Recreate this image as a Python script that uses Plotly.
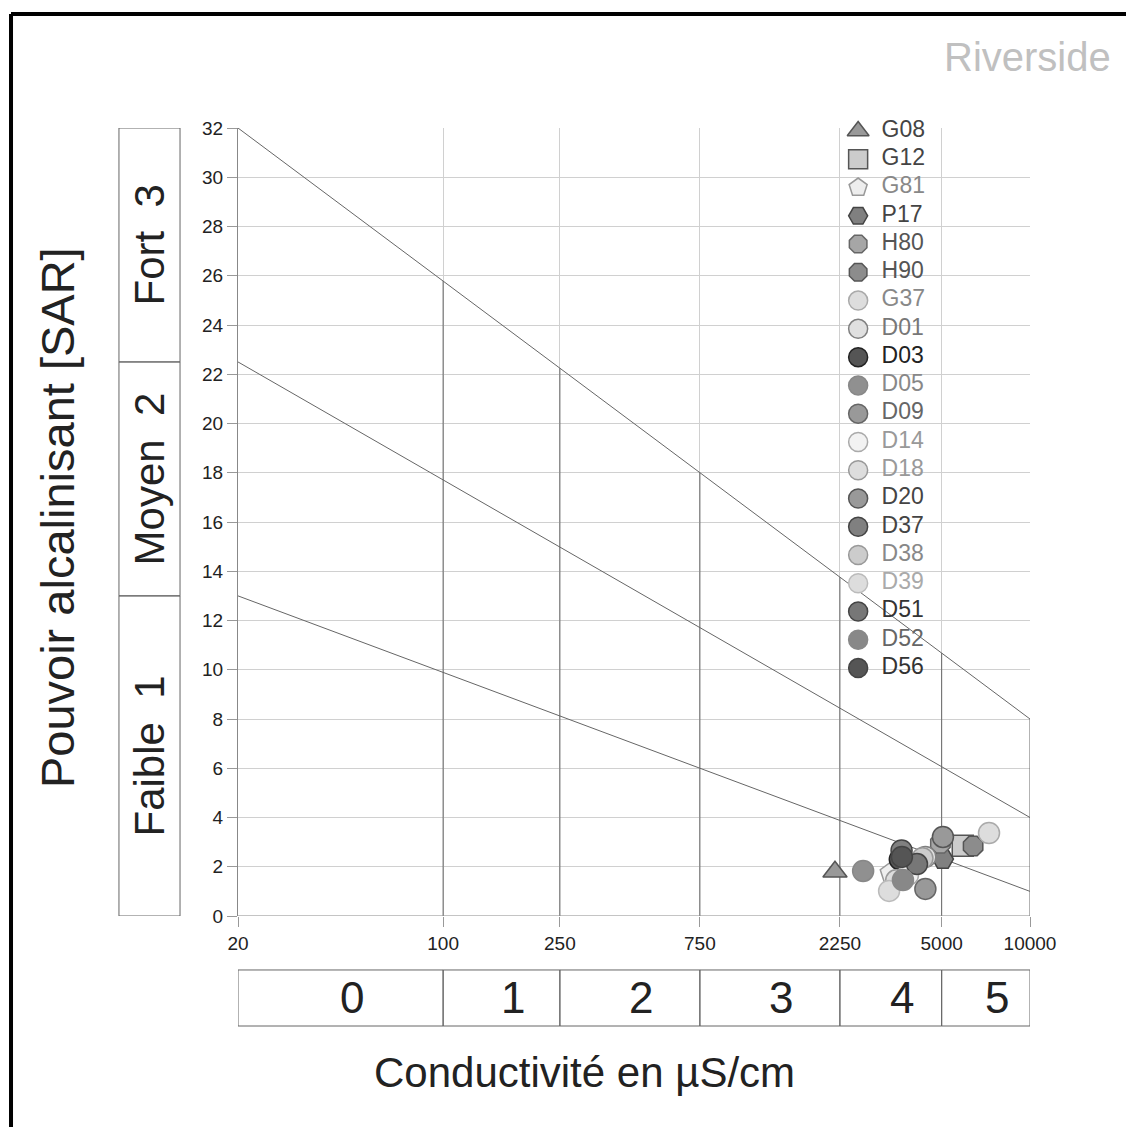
import numpy as np
import plotly.graph_objects as go

# conductivity class limits (µS/cm) and class labels
cond_limits = [20, 100, 250, 750, 2250, 5000, 10000]
cond_classes = ["0", "1", "2", "3", "4", "5"]

# SAR classes (left boxes)
sar_limits = [0, 13, 22.5, 32]
sar_classes = ["Faible  1", "Moyen  2", "Fort  3"]

# SAR boundary lines: value at 20 and at 10000 µS/cm
line_start = [13, 22.5, 32]
line_end = [1, 4, 8]

# samples
names = ["G08", "G12", "G81", "P17", "H80", "H90", "G37", "D01", "D03", "D05",
         "D09", "D14", "D18", "D20", "D37", "D38", "D39", "D51", "D52", "D56"]
cond = [2165, 5900, 3340, 5050, 4950, 6400, 7250, 4400, 3600, 2700,
        4400, 3840, 3500, 5050, 3650, 4300, 3310, 4120, 3690, 3660]
sar = [1.80, 2.85, 1.75, 2.31, 2.95, 2.84, 3.37, 2.40, 2.30, 1.83,
       1.10, 1.67, 1.45, 3.21, 2.66, 2.35, 1.02, 2.11, 1.46, 2.40]
symbols = ["triangle-up", "square", "pentagon", "hexagon2", "octagon", "octagon",
           "circle", "circle", "circle", "circle", "circle", "circle", "circle",
           "circle", "circle", "circle", "circle", "circle", "circle", "circle"]
fills = ["#999999", "#cccccc", "#eeeeee", "#808080", "#a6a6a6", "#8c8c8c", "#dddddd",
         "#e0e0e0", "#555555", "#909090", "#999999", "#f2f2f2", "#dddddd", "#999999",
         "#808080", "#cccccc", "#dddddd", "#777777", "#888888", "#555555"]
edges = ["#555555", "#555555", "#999999", "#444444", "#666666", "#555555", "#aaaaaa",
         "#808080", "#222222", "#888888", "#666666", "#aaaaaa", "#999999", "#555555",
         "#444444", "#999999", "#bbbbbb", "#444444", "#888888", "#444444"]
label_colors = ["#444444", "#444444", "#888888", "#444444", "#555555", "#555555", "#888888",
                "#777777", "#222222", "#888888", "#666666", "#999999", "#999999", "#444444",
                "#444444", "#888888", "#aaaaaa", "#333333", "#666666", "#333333"]

FONT = "Liberation Sans, Arial, sans-serif"
LINE = "#666666"
TXT = "#222222"

fig = go.Figure()

lx0, lx1 = np.log10(cond_limits[0]), np.log10(cond_limits[-1])

# diagonal SAR boundary lines
for a, b in zip(line_start, line_end):
    fig.add_trace(go.Scatter(x=[cond_limits[0], cond_limits[-1]], y=[a, b], mode="lines",
                             line=dict(color=LINE, width=1), showlegend=False, hoverinfo="skip"))

# vertical class limits, up to the top boundary line
for c in cond_limits[1:]:
    top = line_start[-1] + (line_end[-1] - line_start[-1]) * (np.log10(c) - lx0) / (lx1 - lx0)
    fig.add_trace(go.Scatter(x=[c, c], y=[0, top], mode="lines",
                             line=dict(color=LINE, width=1), showlegend=False, hoverinfo="skip"))

# samples
for i, n in enumerate(names):
    fig.add_trace(go.Scatter(
        x=[cond[i]], y=[sar[i]], mode="markers", name=n, showlegend=False,
        marker=dict(symbol=symbols[i], size=21, color=fills[i],
                    line=dict(color=edges[i], width=1.5))))

# legend drawn on its own overlay axes (one row per sample)
rows = list(range(len(names)))
fig.add_trace(go.Scatter(
    x=[0.783] * len(names), y=rows, xaxis="x3", yaxis="y3", mode="markers",
    marker=dict(symbol=symbols, size=19, color=fills, line=dict(color=edges, width=1.5)),
    showlegend=False, hoverinfo="skip", cliponaxis=False))
fig.add_trace(go.Scatter(
    x=[0.8126] * len(names), y=rows, xaxis="x3", yaxis="y3", mode="text",
    text=names, textposition="middle right",
    textfont=dict(family=FONT, size=23, color=label_colors),
    showlegend=False, hoverinfo="skip", cliponaxis=False))

shapes = []
# bottom conductivity boxes
for c0, c1 in zip(cond_limits[:-1], cond_limits[1:]):
    shapes.append(dict(type="rect", xref="x", yref="paper", x0=c0, x1=c1,
                       y0=-0.1396, y1=-0.0685, line=dict(color=LINE, width=1)))
# left SAR boxes
for s0, s1 in zip(sar_limits[:-1], sar_limits[1:]):
    shapes.append(dict(type="rect", xref="paper", yref="y", x0=-0.1503, x1=-0.0732,
                       y0=s0, y1=s1, line=dict(color=LINE, width=1)))
# outer frame (left and top edges)
shapes.append(dict(type="line", xref="paper", yref="paper", x0=-0.2866, x1=-0.2866,
                   y0=1.1447, y1=-0.35, line=dict(color="black", width=4)))
shapes.append(dict(type="line", xref="paper", yref="paper", x0=-0.2866, x1=1.2,
                   y0=1.1447, y1=1.1447, line=dict(color="black", width=4)))

annotations = []
for k, (c0, c1) in enumerate(zip(cond_limits[:-1], cond_limits[1:])):
    annotations.append(dict(x=(np.log10(c0) + np.log10(c1)) / 2, xref="x", y=-0.104, yref="paper",
                            xanchor="center", yanchor="middle",
                            text=cond_classes[k], showarrow=False, xshift=11,
                            font=dict(family=FONT, size=44, color=TXT)))
for k, (s0, s1) in enumerate(zip(sar_limits[:-1], sar_limits[1:])):
    annotations.append(dict(x=-0.1117, xref="paper", y=(s0 + s1) / 2, yref="y",
                            xanchor="center", yanchor="middle",
                            text=sar_classes[k], showarrow=False, textangle=-90,
                            font=dict(family=FONT, size=42, color=TXT)))
annotations.append(dict(x=-0.2285, xref="paper", y=0.505, yref="paper", textangle=-90,
                        xanchor="center", yanchor="middle",
                        text="Pouvoir alcalinisant [SAR]", showarrow=False,
                        font=dict(family=FONT, size=47, color=TXT)))
annotations.append(dict(x=0.438, xref="paper", y=-0.198, yref="paper",
                        xanchor="center", yanchor="middle",
                        text="Conductivité en µS/cm", showarrow=False,
                        font=dict(family=FONT, size=42, color=TXT)))
annotations.append(dict(x=1.1048, xref="paper", y=1.09, yref="paper",
                        xanchor="right", yanchor="middle",
                        text="Riverside", showarrow=False,
                        font=dict(family=FONT, size=40, color="#c0c0c0")))

fig.update_layout(
    width=1126, height=1119,
    margin=dict(l=230, r=104, t=120, b=211),
    paper_bgcolor="white", plot_bgcolor="white",
    font=dict(family=FONT, color="#333333"),
    shapes=shapes, annotations=annotations, showlegend=False,
    xaxis=dict(type="log", range=[lx0, lx1], tickvals=cond_limits,
               ticktext=[str(c) for c in cond_limits], ticks="outside", ticklen=10,
               tickcolor="#999999", showgrid=True, gridcolor="#d0d0d0", zeroline=False,
               showline=False, tickfont=dict(size=19, color=TXT)),
    yaxis=dict(range=[0, 32], dtick=2, ticks="outside", ticklen=10, tickcolor="#999999",
               showgrid=True, gridcolor="#d0d0d0", zeroline=False,
               showline=True, linecolor="#888888", linewidth=1,
               tickfont=dict(size=19, color=TXT)),
    xaxis3=dict(overlaying="x", range=[0, 1], visible=False),
    yaxis3=dict(overlaying="y", range=[27.77, -0.106], visible=False),
)
# x axis base line
fig.add_hline(y=0, line=dict(color="#888888", width=1))

fig.write_html("out.html")
